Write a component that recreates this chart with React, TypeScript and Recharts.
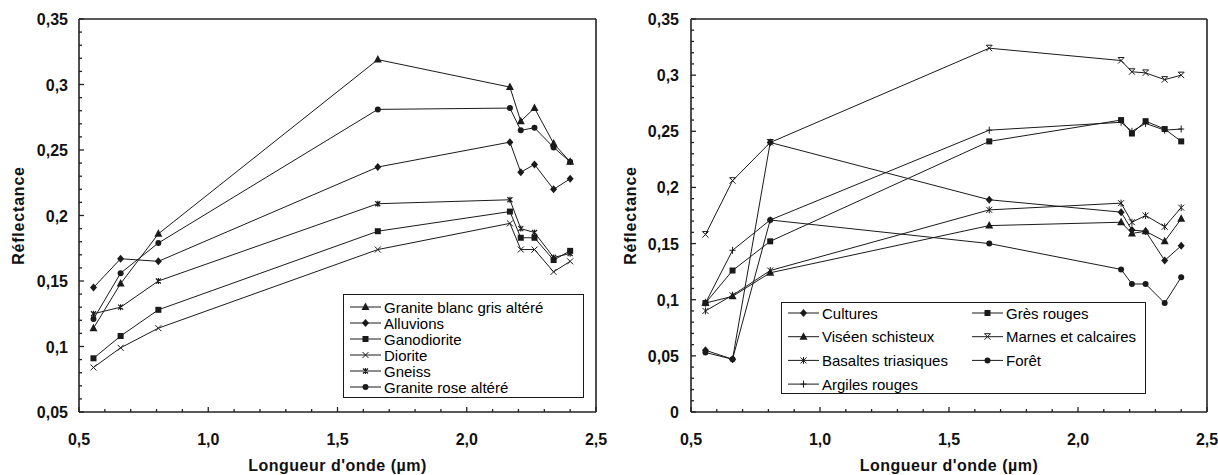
import React from 'react';
import { LineChart, Line, XAxis, YAxis, Legend, ReferenceLine } from 'recharts';

// ASTER band centres (µm)
const wavelengths = [0.556, 0.661, 0.807, 1.656, 2.167, 2.209, 2.262, 2.336, 2.4];

// left panel: rocks
const graniteBlanc = [0.114, 0.148, 0.186, 0.319, 0.298, 0.272, 0.282, 0.255, 0.241];
const alluvions = [0.145, 0.167, 0.165, 0.237, 0.256, 0.233, 0.239, 0.22, 0.228];
const ganodiorite = [0.091, 0.108, 0.128, 0.188, 0.203, 0.183, 0.183, 0.166, 0.173];
const diorite = [0.084, 0.099, 0.114, 0.174, 0.194, 0.174, 0.174, 0.157, 0.165];
const gneiss = [0.125, 0.13, 0.15, 0.209, 0.212, 0.19, 0.187, 0.168, 0.171];
const graniteRose = [0.121, 0.156, 0.179, 0.281, 0.282, 0.265, 0.267, 0.252, 0.241];

// right panel: land cover
const cultures = [0.055, 0.047, 0.24, 0.189, 0.178, 0.162, 0.161, 0.135, 0.148];
const viseen = [0.097, 0.103, 0.124, 0.166, 0.169, 0.159, 0.161, 0.152, 0.172];
const basaltes = [0.09, 0.104, 0.126, 0.18, 0.186, 0.169, 0.175, 0.165, 0.182];
const argiles = [0.097, 0.144, 0.171, 0.251, 0.258, 0.25, 0.257, 0.251, 0.252];
const gres = [0.097, 0.126, 0.152, 0.241, 0.26, 0.248, 0.259, 0.252, 0.241];
const marnes = [0.158, 0.206, 0.24, 0.324, 0.313, 0.303, 0.302, 0.296, 0.3];
const foret = [0.053, 0.047, 0.171, 0.15, 0.127, 0.114, 0.114, 0.097, 0.12];

const xMajor = [0.5, 1.0, 1.5, 2.0, 2.5];
const yMajorLeft = [0.05, 0.1, 0.15, 0.2, 0.25, 0.3, 0.35];
const yMajorRight = [0, 0.05, 0.1, 0.15, 0.2, 0.25, 0.3, 0.35];

const FONT = '"Liberation Sans", Arial, Helvetica, sans-serif';
const INK = '#1a1a1a';
const FRAME = '#222222';

type Shape = 'triangle' | 'diamond' | 'square' | 'cross' | 'star' | 'circle' | 'plus' | 'barcross' | 'asterisk';

interface Series {
  key: string;
  name: string;
  shape: Shape;
  values: number[];
}

const leftSeries: Series[] = [
  { key: 'graniteBlanc', name: 'Granite blanc gris altéré', shape: 'triangle', values: graniteBlanc },
  { key: 'alluvions', name: 'Alluvions', shape: 'diamond', values: alluvions },
  { key: 'ganodiorite', name: 'Ganodiorite', shape: 'square', values: ganodiorite },
  { key: 'diorite', name: 'Diorite', shape: 'cross', values: diorite },
  { key: 'gneiss', name: 'Gneiss', shape: 'star', values: gneiss },
  { key: 'graniteRose', name: 'Granite rose altéré', shape: 'circle', values: graniteRose },
];

const rightSeries: Series[] = [
  { key: 'cultures', name: 'Cultures', shape: 'diamond', values: cultures },
  { key: 'viseen', name: 'Viséen schisteux', shape: 'triangle', values: viseen },
  { key: 'basaltes', name: 'Basaltes triasiques', shape: 'asterisk', values: basaltes },
  { key: 'argiles', name: 'Argiles rouges', shape: 'plus', values: argiles },
  { key: 'gres', name: 'Grès rouges', shape: 'square', values: gres },
  { key: 'marnes', name: 'Marnes et calcaires', shape: 'barcross', values: marnes },
  { key: 'foret', name: 'Forêt', shape: 'circle', values: foret },
];

const buildRows = (series: Series[]) =>
  wavelengths.map((w, i) => {
    const row: Record<string, number> = { w };
    series.forEach((s) => (row[s.key] = s.values[i]));
    return row;
  });

const steps = (from: number, to: number, step: number) => {
  const out: number[] = [];
  for (let v = from; v <= to + 1e-9; v += step) out.push(Math.round(v * 1000) / 1000);
  return out;
};

const xTicks = steps(0.5, 2.5, 0.1);
const isIn = (list: number[], v: number) => list.some((m) => Math.abs(m - v) < 1e-6);
const comma = (s: string) => s.replace('.', ',');

function Marker({ shape, cx, cy }: { shape: Shape; cx: number; cy: number }) {
  if (cx == null || cy == null) return null;
  switch (shape) {
    case 'triangle':
      return <polygon points={`${cx},${cy - 4.5} ${cx - 4},${cy + 3} ${cx + 4},${cy + 3}`} fill={INK} />;
    case 'diamond':
      return <polygon points={`${cx},${cy - 4} ${cx + 3.5},${cy} ${cx},${cy + 4} ${cx - 3.5},${cy}`} fill={INK} />;
    case 'square':
      return <rect x={cx - 3} y={cy - 3} width={6} height={6} fill={INK} />;
    case 'circle':
      return <circle cx={cx} cy={cy} r={3} fill={INK} />;
    case 'cross':
      return (
        <path d={`M${cx - 3},${cy - 3}L${cx + 3},${cy + 3}M${cx - 3},${cy + 3}L${cx + 3},${cy - 3}`} stroke={INK} strokeWidth={1} />
      );
    case 'star':
      return (
        <path
          d={`M${cx - 2.5},${cy - 2.5}L${cx + 2.5},${cy + 2.5}M${cx - 2.5},${cy + 2.5}L${cx + 2.5},${cy - 2.5}M${cx},${cy - 3}L${cx},${cy + 3}`}
          stroke={INK}
          strokeWidth={1.2}
        />
      );
    case 'asterisk':
      return (
        <path
          d={`M${cx - 3},${cy - 3}L${cx + 3},${cy + 3}M${cx - 3},${cy + 3}L${cx + 3},${cy - 3}M${cx},${cy - 3.5}L${cx},${cy + 3.5}`}
          stroke={INK}
          strokeWidth={1}
        />
      );
    case 'plus':
      return <path d={`M${cx},${cy - 3.5}L${cx},${cy + 3.5}M${cx - 3},${cy}L${cx + 3},${cy}`} stroke={INK} strokeWidth={1} />;
    case 'barcross':
      return (
        <path
          d={`M${cx - 3},${cy - 3}L${cx + 3},${cy + 3}M${cx - 3},${cy + 3}L${cx + 3},${cy - 3}M${cx - 3},${cy - 3}L${cx + 3},${cy - 3}`}
          stroke={INK}
          strokeWidth={1}
        />
      );
    default:
      return null;
  }
}

const X_MARGIN = 20;

const XTick = (props: any) => {
  const { x, y, payload } = props;
  const v = payload.value;
  const major = isIn(xMajor, v);
  const ay = y - X_MARGIN;
  return (
    <g>
      <line x1={x} x2={x} y1={ay} y2={ay - (major ? 5 : 3)} stroke={FRAME} strokeWidth={1.3} />
      {major && (
        <text x={x} y={ay + 33} textAnchor="middle" fontFamily={FONT} fontWeight="bold" fontSize={16} fill="#111">
          {comma(v.toFixed(1))}
        </text>
      )}
    </g>
  );
};

const makeYTick = (majors: number[], margin: number) => (props: any) => {
  const { x, y, payload } = props;
  const v = payload.value;
  const major = isIn(majors, v);
  const ax = x + margin;
  return (
    <g>
      <line x1={ax} x2={ax + (major ? 5 : 3)} y1={y} y2={y} stroke={FRAME} strokeWidth={1.3} />
      {major && (
        <text x={x} y={y + 6} textAnchor="end" fontFamily={FONT} fontWeight="bold" fontSize={16} fill="#111">
          {comma(String(v))}
        </text>
      )}
    </g>
  );
};

interface LegendRow {
  name: string;
  shape: Shape;
  x: number;
  y: number;
}

function LegendBox({ width, height, rows }: { width: number; height: number; rows: LegendRow[] }) {
  const symW = 31;
  return (
    <svg width={width} height={height} style={{ display: 'block' }}>
      <rect x={0.5} y={0.5} width={width - 1} height={height - 1} fill="#fff" stroke={INK} />
      {rows.map((r) => (
        <g key={r.name}>
          <line x1={r.x} x2={r.x + symW} y1={r.y} y2={r.y} stroke={INK} />
          <Marker shape={r.shape} cx={r.x + symW / 2} cy={r.y} />
          <text x={r.x + symW + 3} y={r.y + 5.5} fontFamily={FONT} fontSize={15} fill="#000">
            {r.name}
          </text>
        </g>
      ))}
    </svg>
  );
}

interface PanelProps {
  series: Series[];
  yDomain: [number, number];
  yMajor: number[];
  marginLeft: number;
  marginRight: number;
  yTickMargin: number;
  legend: { left: number; top: number; width: number; height: number; rows: LegendRow[] };
}

function Panel({ series, yDomain, yMajor, marginLeft, marginRight, yTickMargin, legend }: PanelProps) {
  const data = buildRows(series);
  const yTicks = steps(yDomain[0], yDomain[1], 0.01);
  const frame = { stroke: FRAME, strokeWidth: 1.6 };
  return (
    <LineChart width={609} height={475} data={data} margin={{ top: 19, right: marginRight, bottom: 0, left: marginLeft }}>
      <XAxis
        dataKey="w"
        type="number"
        domain={[0.5, 2.5]}
        ticks={xTicks}
        interval={0}
        height={63}
        tickSize={0}
        tickMargin={X_MARGIN}
        axisLine={frame}
        tick={XTick}
        label={{
          value: "Longueur d'onde (µm)",
          position: 'insideBottom',
          offset: 4,
          style: { fontFamily: FONT, fontWeight: 'bold', fontSize: 16, letterSpacing: 0.5, fill: '#111' },
        }}
      />
      <YAxis
        type="number"
        domain={yDomain}
        ticks={yTicks}
        interval={0}
        width={60}
        tickSize={0}
        tickMargin={yTickMargin}
        axisLine={frame}
        tick={makeYTick(yMajor, yTickMargin)}
        label={{
          value: 'Réflectance',
          angle: -90,
          position: 'insideLeft',
          offset: -1,
          style: { textAnchor: 'middle', fontFamily: FONT, fontWeight: 'bold', fontSize: 16, letterSpacing: 0.8, fill: '#111' },
        }}
      />
      <ReferenceLine x={2.5} stroke={FRAME} strokeWidth={1.6} />
      <ReferenceLine y={yDomain[1]} stroke={FRAME} strokeWidth={1.6} />
      {series.map((s) => (
        <Line
          key={s.key}
          dataKey={s.key}
          name={s.name}
          type="linear"
          stroke={INK}
          strokeWidth={1}
          dot={(p: any) => <Marker key={`${s.key}-${p.index}`} shape={s.shape} cx={p.cx} cy={p.cy} />}
          activeDot={false}
          isAnimationActive={false}
        />
      ))}
      <Legend
        layout="horizontal"
        verticalAlign="middle"
        align="center"
        wrapperStyle={{ left: legend.left, top: legend.top, width: legend.width, height: legend.height }}
        content={() => <LegendBox width={legend.width} height={legend.height} rows={legend.rows} />}
      />
    </LineChart>
  );
}

const leftLegendRows: LegendRow[] = leftSeries.map((s, i) => ({ name: s.name, shape: s.shape, x: 7, y: 13 + 16 * i }));

const rightLegendRows: LegendRow[] = rightSeries.map((s, i) => {
  const col = i < 4 ? 0 : 1;
  const row = col === 0 ? i : i - 4;
  return { name: s.name, shape: s.shape, x: col === 0 ? 7 : 191, y: 11 + 23.7 * row };
});

export default function App() {
  return (
    <div style={{ position: 'absolute', left: 0, top: 0, width: 1218, height: 475, display: 'flex', background: '#fff' }}>
      <Panel
        series={leftSeries}
        yDomain={[0.05, 0.35]}
        yMajor={yMajorLeft}
        marginLeft={19}
        marginRight={13}
        yTickMargin={11}
        legend={{ left: 343, top: 294, width: 241, height: 104, rows: leftLegendRows }}
      />
      <Panel
        series={rightSeries}
        yDomain={[0, 0.35]}
        yMajor={yMajorRight}
        marginLeft={22}
        marginRight={11}
        yTickMargin={12}
        legend={{ left: 172, top: 302, width: 365, height: 92, rows: rightLegendRows }}
      />
    </div>
  );
}
